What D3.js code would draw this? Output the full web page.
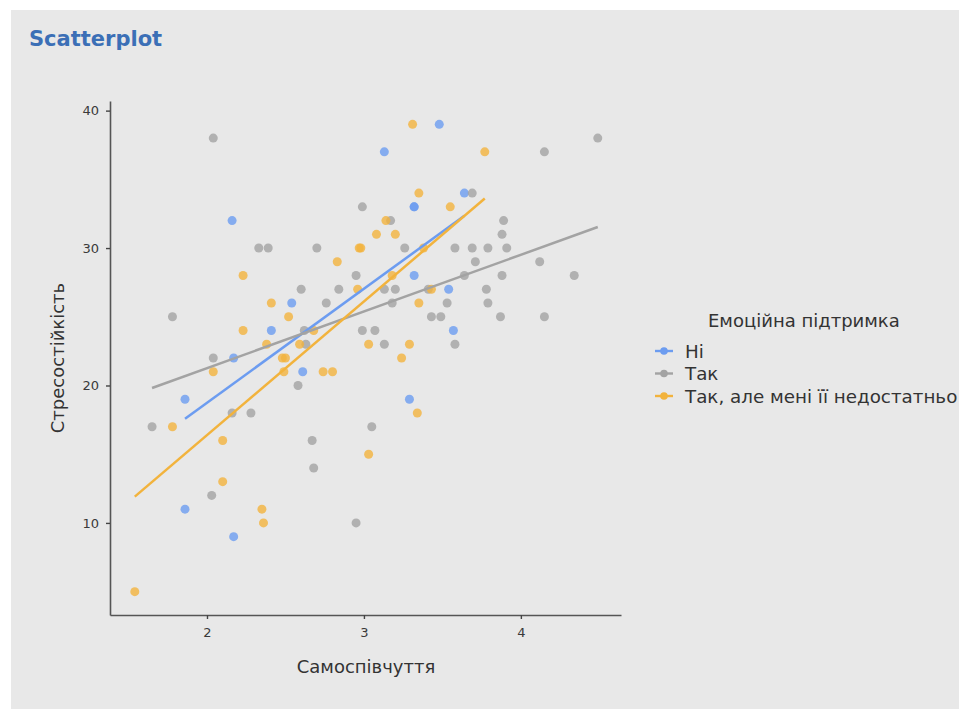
<!DOCTYPE html>
<html lang="uk">
<head>
  <meta charset="UTF-8">
  <title>Scatterplot</title>
  <script src="https://d3js.org/d3.v7.min.js"></script>
  <style>
    body { margin: 0; background: #fff; }
    text { font-family: "DejaVu Sans", "Liberation Sans", Arial, sans-serif; }
  </style>
</head>
<body>
  <script>
    var groups = ["Ні", "Так", "Так, але мені її недостатньо"];
    var colors = ["#6c9cf0", "#a3a3a3", "#f2b33d"];

    // [самоспівчуття, стресостійкість]
    var pointsNi = [
      [2.16, 32], [2.54, 26], [2.41, 24], [2.17, 22], [2.61, 21], [1.86, 19],
      [1.86, 11], [2.17, 9], [3.48, 39], [3.13, 37], [3.64, 34], [3.32, 33],
      [3.32, 33], [3.32, 28], [3.54, 27], [3.57, 24], [3.29, 19]
    ];
    var pointsTak = [
      [2.04, 38], [2.33, 30], [2.39, 30], [2.70, 30], [2.99, 33], [2.95, 28],
      [2.60, 27], [2.84, 27], [2.76, 26], [1.78, 25], [2.62, 24], [2.99, 24],
      [3.07, 24], [2.63, 23], [3.13, 23], [3.58, 23], [2.04, 22], [2.58, 20],
      [1.65, 17], [3.05, 17], [2.16, 18], [2.28, 18], [2.67, 16], [2.68, 14],
      [2.03, 12], [2.95, 10], [4.15, 37], [4.49, 38], [3.69, 34], [3.17, 32],
      [3.89, 32], [3.88, 31], [3.26, 30], [3.58, 30], [3.69, 30], [3.79, 30],
      [3.91, 30], [3.71, 29], [4.12, 29], [3.64, 28], [3.88, 28], [4.34, 28],
      [3.13, 27], [3.20, 27], [3.41, 27], [3.78, 27], [3.18, 26], [3.53, 26],
      [3.79, 26], [3.43, 25], [3.49, 25], [3.87, 25], [4.15, 25]
    ];
    var pointsTakAle = [
      [2.23, 28], [2.83, 29], [2.97, 30], [2.98, 30], [2.96, 27], [2.41, 26],
      [2.52, 25], [2.23, 24], [2.68, 24], [2.38, 23], [2.59, 23], [3.03, 23],
      [2.48, 22], [2.50, 22], [2.04, 21], [2.49, 21], [2.74, 21], [2.80, 21],
      [1.78, 17], [2.10, 16], [2.10, 13], [2.35, 11], [2.36, 10], [1.54, 5],
      [3.03, 15], [3.29, 23], [3.24, 22], [3.34, 18], [3.31, 39], [3.77, 37],
      [3.35, 34], [3.55, 33], [3.14, 32], [3.08, 31], [3.20, 31], [3.38, 30],
      [3.18, 28], [3.43, 27], [3.35, 26]
    ];
    var xTicks = [2, 3, 4];
    var yTicks = [10, 20, 30, 40];

    var allPoints = [pointsNi, pointsTak, pointsTakAle];

    var width = 959, height = 709;
    var svg = d3.select("body").append("svg")
      .attr("width", width)
      .attr("height", height);

    svg.append("rect")
      .attr("x", 11).attr("y", 10)
      .attr("width", width - 11).attr("height", height - 10)
      .attr("fill", "#e8e8e8");

    var mLeft = 110, mRight = 621, mTop = 101, mBottom = 615;

    var x = d3.scaleLinear().domain([1.382, 4.638]).range([mLeft, mRight]);
    var y = d3.scaleLinear().domain([3.3, 40.7]).range([mBottom, mTop]);

    // axes
    var xAxis = svg.append("g")
      .attr("transform", "translate(0," + mBottom + ")")
      .call(d3.axisBottom(x).tickValues(xTicks).tickSizeInner(4).tickSizeOuter(0)
        .tickPadding(9).tickFormat(d3.format("d")));
    var yAxis = svg.append("g")
      .attr("transform", "translate(" + mLeft + ",0)")
      .call(d3.axisLeft(y).tickValues(yTicks).tickSizeInner(4).tickSizeOuter(0)
        .tickPadding(7).tickFormat(d3.format("d")));

    [xAxis, yAxis].forEach(function(a) {
      a.select(".domain").attr("stroke", "#555").attr("stroke-width", 1.6);
      a.selectAll(".tick line").attr("stroke", "#444").attr("stroke-width", 1.4);
      a.selectAll(".tick text")
        .attr("fill", "#3a3a3a")
        .style("font-size", "13px")
        .style("font-family", "'DejaVu Sans', sans-serif");
    });

    // linear fits
    function fit(pts) {
      var mx = d3.mean(pts, d => d[0]), my = d3.mean(pts, d => d[1]);
      var sxy = d3.sum(pts, d => (d[0] - mx) * (d[1] - my));
      var sxx = d3.sum(pts, d => (d[0] - mx) * (d[0] - mx));
      var b = sxy / sxx, a = my - b * mx;
      var ext = d3.extent(pts, d => d[0]);
      return ext.map(v => [v, a + b * v]);
    }

    var plot = svg.append("g");

    allPoints.forEach(function(pts, i) {
      plot.selectAll(".pt" + i)
        .data(pts)
        .enter()
        .append("circle")
        .attr("cx", d => x(d[0]))
        .attr("cy", d => y(d[1]))
        .attr("r", 4.5)
        .attr("fill", colors[i])
        .attr("fill-opacity", 0.8);
    });

    var line = d3.line().x(d => x(d[0])).y(d => y(d[1]));
    allPoints.forEach(function(pts, i) {
      plot.append("path")
        .attr("d", line(fit(pts)))
        .attr("fill", "none")
        .attr("stroke", colors[i])
        .attr("stroke-width", 2.5);
    });

    // titles
    svg.append("text")
      .attr("x", 29).attr("y", 46)
      .attr("fill", "#3b6fb6")
      .style("font-size", "21px")
      .style("font-weight", "bold")
      .text("Scatterplot");

    svg.append("text")
      .attr("x", 366).attr("y", 673)
      .attr("text-anchor", "middle")
      .attr("fill", "#333")
      .style("font-size", "18px")
      .text("Самоспівчуття");

    svg.append("text")
      .attr("transform", "translate(64," + (mTop + mBottom) / 2 + ") rotate(-90)")
      .attr("text-anchor", "middle")
      .attr("fill", "#333")
      .style("font-size", "18px")
      .text("Стресостійкість");

    // legend
    var legend = svg.append("g");
    legend.append("text")
      .attr("x", 708).attr("y", 327)
      .attr("fill", "#333")
      .style("font-size", "18px")
      .text("Емоційна підтримка");

    var items = legend.selectAll(".item")
      .data(groups)
      .enter()
      .append("g")
      .attr("transform", (d, i) => "translate(0," + (351 + i * 22.5) + ")");
    items.append("line")
      .attr("x1", 655).attr("x2", 673)
      .attr("stroke", (d, i) => colors[i])
      .attr("stroke-width", 2.4);
    items.append("circle")
      .attr("cx", 664).attr("r", 3.8)
      .attr("fill", (d, i) => colors[i]);
    items.append("text")
      .attr("x", 685).attr("y", 6.5)
      .attr("fill", "#333")
      .style("font-size", "18.3px")
      .text(d => d);
  </script>
</body>
</html>
